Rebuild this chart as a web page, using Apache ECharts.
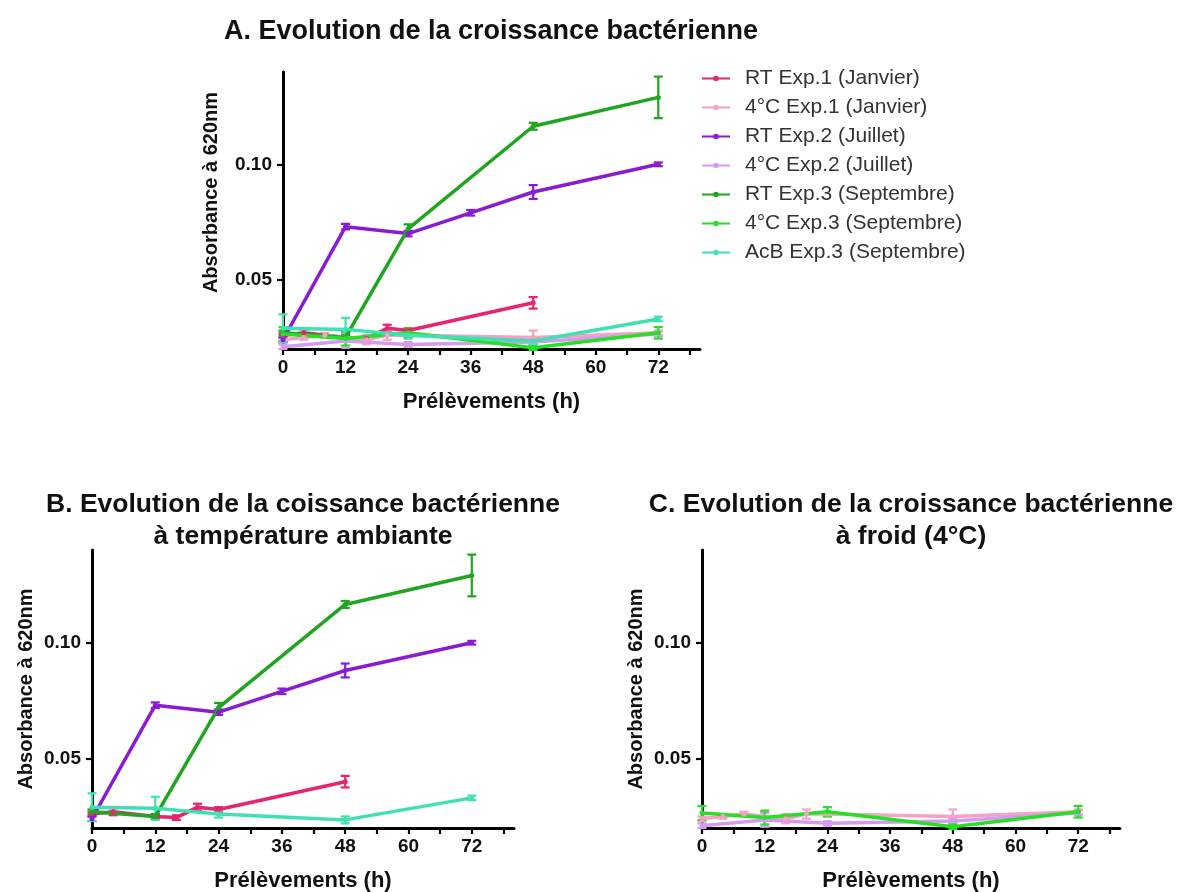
<!DOCTYPE html>
<html>
<head>
<meta charset="utf-8">
<script src="https://cdn.jsdelivr.net/npm/echarts@6/dist/echarts.min.js"></script>
<style>
  html, body { margin: 0; padding: 0; background: #fff; }
  #main { width: 1177px; height: 892px; }
</style>
</head>
<body>
<div id="main"></div>
<script>
// temps de prélèvement (h), moyennes et erreurs
var tRT1 = [0, 4, 12, 16, 20, 24, 48];
var mRT1 = [0.026, 0.027, 0.025, 0.0245, 0.029, 0.028, 0.040];
var eRT1 = [0.001, 0.0015, 0.001, 0.001, 0.0015, 0.001, 0.0025];

var t4C1 = [0, 4, 8, 12, 16, 20, 24, 48, 72];
var m4C1 = [0.024, 0.025, 0.026, 0.025, 0.024, 0.026, 0.026, 0.025, 0.027];
var e4C1 = [0.001, 0.001, 0.001, 0.002, 0.002, 0.002, 0.001, 0.003, 0.001];

var tRT2 = [0, 12, 24, 36, 48, 72];
var mRT2 = [0.024, 0.073, 0.070, 0.079, 0.088, 0.100];
var eRT2 = [0.001, 0.0012, 0.0012, 0.0012, 0.003, 0.0008];

var t4C2 = [0, 12, 24, 48, 72];
var m4C2 = [0.021, 0.0235, 0.022, 0.023, 0.0265];
var e4C2 = [0.001, 0.003, 0.001, 0.001, 0.001];

var tRT3 = [0, 12, 24, 48, 72];
var mRT3 = [0.027, 0.025, 0.072, 0.1165, 0.129];
var eRT3 = [0.001, 0.001, 0.002, 0.0015, 0.009];

var t4C3 = [0, 12, 24, 48, 72];
var m4C3 = [0.0265, 0.0245, 0.027, 0.0205, 0.027];
var e4C3 = [0.003, 0.003, 0.002, 0.001, 0.0025];

var tAcB = [0, 12, 24, 48, 72];
var mAcB = [0.029, 0.0285, 0.026, 0.0235, 0.033];
var eAcB = [0.006, 0.005, 0.0015, 0.0015, 0.001];

var names = ['RT Exp.1 (Janvier)', '4°C Exp.1 (Janvier)', 'RT Exp.2 (Juillet)', '4°C Exp.2 (Juillet)',
             'RT Exp.3 (Septembre)', '4°C Exp.3 (Septembre)', 'AcB Exp.3 (Septembre)'];
var colors = ['#e8236f', '#f3a3c6', '#8a1bd3', '#d69af0', '#1fa51f', '#25e025', '#40e0b4'];

var xTicks = [0, 6, 12, 18, 24, 30, 36, 42, 48, 54, 60, 66, 72, 78];
var xLabels = [0, 12, 24, 36, 48, 60, 72];
var yLabels = [0.05, 0.10];

var groups = [
  { t: tRT1, m: mRT1, e: eRT1 },
  { t: t4C1, m: m4C1, e: e4C1 },
  { t: tRT2, m: mRT2, e: eRT2 },
  { t: t4C2, m: m4C2, e: e4C2 },
  { t: tRT3, m: mRT3, e: eRT3 },
  { t: t4C3, m: m4C3, e: e4C3 },
  { t: tAcB, m: mAcB, e: eAcB }
];
// panneau A : tout ; B : température ambiante ; C : 4°C
var panels = [[0, 1, 2, 3, 4, 5, 6], [0, 2, 4, 6], [1, 3, 5]];

var font = 'Liberation Sans, Arial, sans-serif';

function errorItem(params, api) {
  var x = api.value(0);
  var top = api.coord([x, api.value(2)]);
  var bot = api.coord([x, api.value(1)]);
  var w = 4.5;
  var st = { stroke: api.visual('color'), lineWidth: 2.2 };
  return {
    type: 'group',
    children: [
      { type: 'line', shape: { x1: top[0], y1: top[1], x2: bot[0], y2: bot[1] }, style: st },
      { type: 'line', shape: { x1: top[0] - w, y1: top[1], x2: top[0] + w, y2: top[1] }, style: st },
      { type: 'line', shape: { x1: bot[0] - w, y1: bot[1], x2: bot[0] + w, y2: bot[1] }, style: st }
    ]
  };
}

var grids = [
  { left: 283, top: 72, width: 417, height: 277 },
  { left: 92, top: 550, width: 422, height: 278 },
  { left: 702, top: 550, width: 418, height: 278 }
];
var yGaps = [62, 56, 56];
var yNamePad = [[0, 0, 0, 36], [0, 0, 0, 0], [0, 0, 0, 0]];

var xAxes = [], yAxes = [], series = [];
grids.forEach(function (g, i) {
  g.containLabel = false;
  g.outerBoundsMode = 'none';
  xAxes.push({
    type: 'value', gridIndex: i, min: 0, max: 80,
    name: 'Prélèvements (h)', nameLocation: 'middle', nameGap: 42,
    nameTextStyle: { fontSize: 22, fontWeight: 'bold', color: '#111', fontFamily: font },
    splitLine: { show: false },
    axisLine: { onZero: false, lineStyle: { color: '#000', width: 3 } },
    axisTick: { customValues: xTicks, length: 6, lineStyle: { color: '#000', width: 2.2 } },
    axisLabel: { customValues: xLabels, margin: 9, fontSize: 19, fontWeight: 'bold', color: '#111', fontFamily: font }
  });
  yAxes.push({
    type: 'value', gridIndex: i, min: 0.02, max: 0.14,
    name: 'Absorbance à 620nm', nameLocation: 'middle', nameGap: yGaps[i], nameRotate: 90,
    nameTextStyle: { fontSize: 20, fontWeight: 'bold', color: '#111', fontFamily: font, padding: yNamePad[i] },
    splitLine: { show: false },
    axisLine: { show: true, onZero: false, lineStyle: { color: '#000', width: 3 } },
    axisTick: { show: true, customValues: yLabels, length: 6, lineStyle: { color: '#000', width: 2.2 } },
    axisLabel: {
      customValues: yLabels, margin: 11, fontSize: 19, fontWeight: 'bold', color: '#111', fontFamily: font,
      formatter: function (v) { return v.toFixed(2); }
    }
  });
  panels[i].forEach(function (k) {
    var gr = groups[k];
    var line = gr.t.map(function (t, j) { return [t, gr.m[j]]; });
    var err = gr.t.map(function (t, j) { return [t, gr.m[j] - gr.e[j], gr.m[j] + gr.e[j]]; });
    series.push({
      type: 'line', name: names[k], xAxisIndex: i, yAxisIndex: i,
      data: line, symbol: 'circle', symbolSize: 5, showSymbol: true,
      color: colors[k], lineStyle: { width: 3.5, color: colors[k] }, itemStyle: { color: colors[k] },
      z: 3
    });
    series.push({
      type: 'custom', name: names[k] + ' err', xAxisIndex: i, yAxisIndex: i,
      data: err, renderItem: errorItem, encode: { x: 0, y: [1, 2] },
      itemStyle: { color: colors[k] }, color: colors[k], z: 3
    });
  });
});

var titleA = { fontSize: 27, fontWeight: 'bold', color: '#111', fontFamily: font, lineHeight: 30 };
var titleBC = { fontSize: 26.5, fontWeight: 'bold', color: '#111', fontFamily: font, lineHeight: 32 };

var chart = echarts.init(document.getElementById('main'));
chart.setOption({
  animation: false,
  backgroundColor: '#fff',
  title: [
    { text: 'A. Evolution de la croissance bactérienne', left: 486, top: 12, textAlign: 'center', textStyle: titleA },
    { text: 'B. Evolution de la coissance bactérienne\nà température ambiante', left: 298, top: 484, textAlign: 'center', textStyle: titleBC },
    { text: 'C. Evolution de la croissance bactérienne\nà froid (4°C)', left: 906, top: 484, textAlign: 'center', textStyle: titleBC }
  ],
  legend: {
    data: names, orient: 'vertical', left: 696, top: 63,
    itemWidth: 28, itemHeight: 7, itemGap: 8,
    textStyle: { fontSize: 21, color: '#333', fontFamily: font, padding: [0, 0, 0, 10] }
  },
  grid: grids,
  xAxis: xAxes,
  yAxis: yAxes,
  series: series
});
</script>
</body>
</html>
